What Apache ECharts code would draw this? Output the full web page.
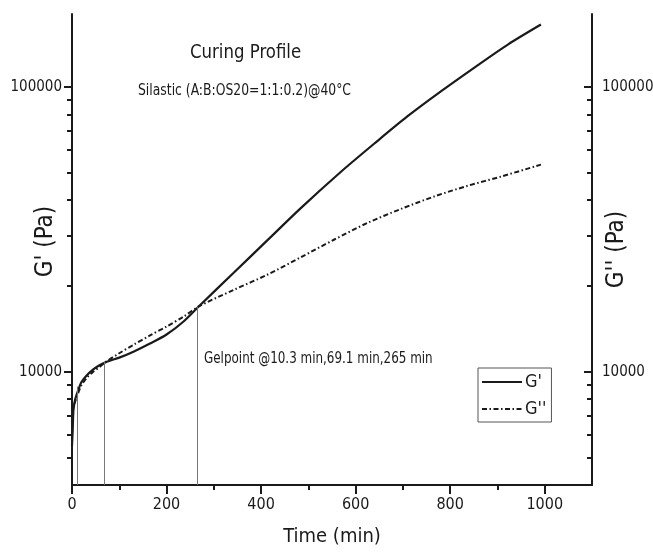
<!DOCTYPE html>
<html>
<head>
<meta charset="utf-8">
<script src="https://cdn.jsdelivr.net/npm/echarts@6/dist/echarts.min.js"></script>
<style>
html,body{margin:0;padding:0;background:#fff;}
#chart{width:653px;height:557px;}
</style>
</head>
<body>
<div id="chart"></div>
<script>
// ---- data ----
const gPrimeTime  = [0, 1.5, 3, 6.4, 13, 20, 31, 45, 59, 75, 100, 130, 165, 200, 236, 268, 342, 413, 484, 569, 639, 710, 781, 852, 922, 992];
const gPrimeValue = [5500, 6240, 7300, 7950, 8600, 9200, 9700, 10180, 10550, 10850, 11200, 11750, 12550, 13500, 15000, 16930, 22230, 28880, 37500, 50300, 63060, 78800, 96500, 117000, 140600, 165300];
const gDoubleTime  = [5, 13, 20, 31, 45, 59, 69, 100, 130, 165, 200, 236, 268, 342, 413, 484, 554, 625, 696, 767, 837, 908, 992];
const gDoubleValue = [7700, 8400, 8950, 9500, 10000, 10400, 10750, 11600, 12420, 13400, 14390, 15600, 16930, 19360, 21880, 25200, 29030, 33260, 37240, 41230, 44900, 48400, 53280];
const gelTimes   = [10.3, 69.1, 265];
const gelModulus = [8860, 10840, 16900];

const xRange = [0, 1100];
const yRange = [4000, 180000];
const xMajorTicks = [0, 200, 400, 600, 800, 1000];
const xMinorTicks = [100, 300, 500, 700, 900];
const yMajorTicks = [10000, 100000];
const yMinorTicks = [5000, 6000, 7000, 8000, 9000, 20000, 30000, 40000, 50000, 60000, 70000, 80000, 90000];

const titleText = 'Curing Profile';
const subtitleText = 'Silastic (A:B:OS20=1:1:0.2)@40°C';
const gelText = 'Gelpoint @10.3 min,69.1 min,265 min';
const seriesNames = ["G'", "G''"];

// ---- chart ----
const FONT = "'Liberation Sans Narrow','Arial Narrow','DejaVu Sans Condensed','Liberation Sans',sans-serif";
const INK = '#1a1a1a';
const zip = (a, b) => a.map((v, i) => [v, b[i]]);

const axisLineStyle = { show: true, lineStyle: { color: INK, width: 2 } };
const noLine = { show: false };

function yAxisDef(pos, major, inside, extra) {
  return Object.assign({
    type: 'log', logBase: 10, min: yRange[0], max: yRange[1], position: pos,
    nameMoveOverlap: false,
    axisLine: major ? axisLineStyle : noLine,
    splitLine: { show: false },
    axisTick: {
      show: true, inside: inside, length: major ? 8 : 5,
      customValues: major ? yMajorTicks : yMinorTicks,
      lineStyle: { color: INK, width: 2 }
    },
    axisLabel: major ? {
      show: true, customValues: yMajorTicks, margin: 10,
      fontFamily: FONT, fontSize: 15, color: INK,
      formatter: v => String(Math.round(v))
    } : { show: false }
  }, extra || {});
}

const chart = echarts.init(document.getElementById('chart'), null, { renderer: 'canvas' });
chart.setOption({
  animation: false,
  backgroundColor: '#fff',
  grid: { left: 72, right: 61, top: 14, bottom: 72, containLabel: false, outerBoundsMode: 'none' },
  xAxis: [
    {
      type: 'value', min: xRange[0], max: xRange[1], position: 'bottom',
      nameMoveOverlap: false,
      axisLine: axisLineStyle, splitLine: { show: false },
      axisTick: { show: true, length: 9, customValues: xMajorTicks, lineStyle: { color: INK, width: 2 } },
      axisLabel: { show: true, customValues: xMajorTicks, margin: 12, fontFamily: FONT, fontSize: 16, color: INK,
                   formatter: v => String(v) },
      name: 'Time (min)', nameLocation: 'middle', nameGap: 42,
      nameTextStyle: { fontFamily: FONT, fontSize: 20, color: INK }
    },
    {
      type: 'value', min: xRange[0], max: xRange[1], position: 'bottom',
      axisLine: noLine, splitLine: { show: false },
      axisTick: { show: true, length: 5, customValues: xMinorTicks, lineStyle: { color: INK, width: 2 } },
      axisLabel: { show: false }
    }
  ],
  yAxis: [
    yAxisDef('left', true, false, {
      name: "G' (Pa)", nameLocation: 'middle', nameGap: 14, nameRotate: 90,
      nameTextStyle: { fontFamily: FONT, fontSize: 24, color: INK, padding: [0, 0, 0, 16] }
    }),
    yAxisDef('left', false, false),
    yAxisDef('right', true, true, {
      name: "G'' (Pa)", nameLocation: 'middle', nameGap: 13, nameRotate: 90,
      nameTextStyle: { fontFamily: FONT, fontSize: 24, color: INK }
    }),
    yAxisDef('right', false, true)
  ],
  legend: {
    orient: 'vertical', left: 478, top: 368,
    itemWidth: 40, itemHeight: 12, itemGap: 7,
    padding: [4, 5, 3, 3],
    borderColor: '#555', borderWidth: 1,
    itemStyle: { opacity: 0 },
    textStyle: { fontFamily: FONT, fontSize: 18, color: INK, lineHeight: 20, padding: [0, 0, 0, -2] },
    data: seriesNames
  },
  graphic: [
    { type: 'text', left: 190, top: 43, scaleX: 0.92, style: { text: titleText, font: '20px ' + FONT, fill: INK } },
    { type: 'text', left: 138, top: 83, scaleX: 0.86, style: { text: subtitleText, font: '16px ' + FONT, fill: INK } },
    { type: 'text', left: 204, top: 351, scaleX: 0.83, style: { text: gelText, font: '16px ' + FONT, fill: INK } }
  ],
  series: [
    {
      name: seriesNames[0], type: 'line', xAxisIndex: 0, yAxisIndex: 0,
      data: zip(gPrimeTime, gPrimeValue), smooth: 0.3, symbol: 'none',
      lineStyle: { color: INK, width: 2.2 }, itemStyle: { color: INK },
      z: 3,
      markLine: {
        silent: true, symbol: ['none', 'none'], animation: false,
        label: { show: false },
        lineStyle: { color: '#777', width: 1, type: 'solid' },
        emphasis: { disabled: true },
        data: gelTimes.map((t, i) => [{ coord: [t, yRange[0]] }, { coord: [t, gelModulus[i]] }])
      }
    },
    {
      name: seriesNames[1], type: 'line', xAxisIndex: 0, yAxisIndex: 0,
      data: zip(gDoubleTime, gDoubleValue), smooth: 0.3, symbol: 'none',
      lineStyle: { color: INK, width: 2, type: [5, 2.5, 1.5, 2.5] }, itemStyle: { color: INK },
      z: 2
    }
  ]
});
</script>
</body>
</html>
